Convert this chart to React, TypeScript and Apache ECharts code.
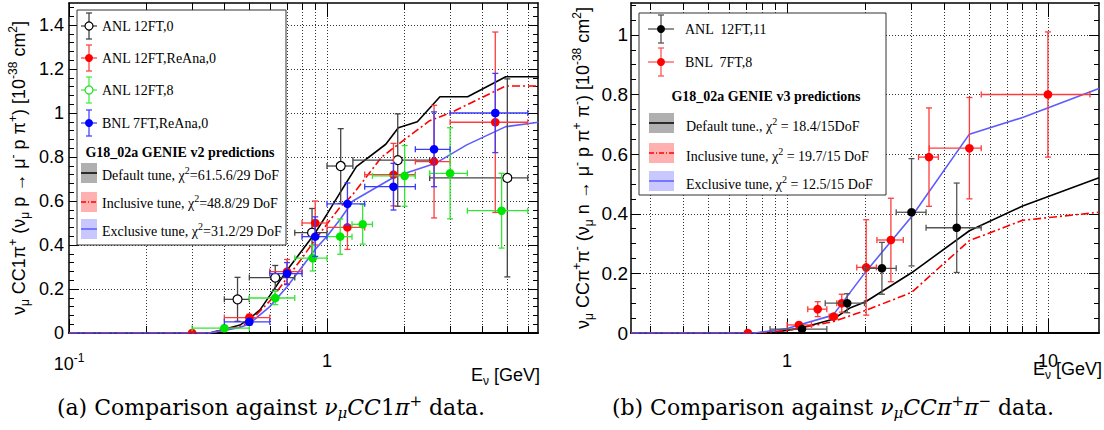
import React, { useEffect, useRef } from "react";
import * as echarts from "echarts";

// ---------- Panel (a): nu_mu CC1pi+ ----------
// rows: [E_nu, sigma, E_low, E_high, sigma_err]
const anl12ft0 = [
  [0.45, 0.153, 0.4, 0.5, 0.1],
  [0.63, 0.252, 0.5, 0.75, 0.055],
  [0.875, 0.456, 0.75, 1.0, 0.11],
  [1.13, 0.759, 1.0, 1.26, 0.17],
  [1.88, 0.786, 1.26, 2.5, 0.21],
  [5.0, 0.705, 2.5, 6.0, 0.45],
];
const anl12ftReAna0 = [
  [0.3, 0.0, 0.3, 0.3, 0.0],
  [0.5, 0.07, 0.4, 0.6, 0.015],
  [0.7, 0.279, 0.6, 0.8, 0.055],
  [0.9, 0.5, 0.8, 1.0, 0.1],
  [1.2, 0.48, 1.0, 1.4, 0.1],
  [1.81, 0.72, 1.4, 2.2, 0.142],
  [2.6, 0.779, 2.2, 3.0, 0.256],
  [4.49, 0.958, 3.0, 6.0, 0.41],
];
const anl12ft8 = [
  [0.4, 0.022, 0.3, 0.5, 0.01],
  [0.63, 0.159, 0.5, 0.75, 0.03],
  [0.88, 0.34, 0.75, 1.0, 0.058],
  [1.125, 0.438, 1.0, 1.25, 0.08],
  [1.375, 0.494, 1.25, 1.5, 0.09],
  [2.0, 0.714, 1.5, 2.2, 0.138],
  [3.0, 0.726, 2.5, 3.5, 0.207],
  [4.75, 0.556, 3.5, 6.0, 0.17],
];
const bnl7ftReAna0 = [
  [0.5, 0.051, 0.4, 0.6, 0.015],
  [0.7, 0.27, 0.6, 0.8, 0.05],
  [0.9, 0.438, 0.8, 1.0, 0.09],
  [1.2, 0.587, 1.0, 1.4, 0.095],
  [1.81, 0.665, 1.4, 2.2, 0.106],
  [2.6, 0.835, 2.2, 3.0, 0.17],
  [4.49, 1.0, 3.0, 6.0, 0.18],
];
// GENIE v2 predictions: [E_nu, sigma]
const v2Default = [
  [0.1, 0], [0.35, 0], [0.4, 0.017], [0.46, 0.036], [0.5, 0.065], [0.55, 0.105],
  [0.6, 0.17], [0.7, 0.285], [0.8, 0.375], [0.9, 0.455], [1.0, 0.54], [1.12, 0.635],
  [1.3, 0.756], [1.69, 0.858], [1.89, 0.933], [2.24, 0.96], [2.74, 1.074],
  [3.51, 1.074], [4.93, 1.165], [6.6, 1.165],
];
const v2Inclusive = [
  [0.1, 0], [0.35, 0], [0.4, 0.015], [0.46, 0.03], [0.5, 0.05], [0.6, 0.145],
  [0.7, 0.25], [0.8, 0.34], [0.9, 0.425], [1.0, 0.495], [1.12, 0.57], [1.25, 0.625],
  [1.63, 0.8], [2.0, 0.88], [2.5, 0.965], [3.0, 1.0], [4.93, 1.123], [6.6, 1.123],
];
const v2Exclusive = [
  [0.1, 0], [0.35, 0], [0.4, 0.012], [0.46, 0.025], [0.5, 0.042], [0.6, 0.12],
  [0.7, 0.21], [0.8, 0.3], [0.9, 0.38], [1.0, 0.44], [1.12, 0.514], [1.26, 0.6],
  [1.83, 0.71], [2.62, 0.77], [3.48, 0.855], [4.93, 0.938], [6.6, 0.958],
];

// ---------- Panel (b): nu_mu CC pi+ pi- ----------
const anl12ft11 = [
  [1.14, 0.013, 0.86, 1.42, 0.005],
  [1.7, 0.1, 1.4, 1.98, 0.032],
  [2.31, 0.217, 1.98, 2.62, 0.087],
  [3.0, 0.405, 2.62, 3.41, 0.18],
  [4.47, 0.353, 3.41, 5.55, 0.15],
];
const bnl7ft8 = [
  [0.707, 0.0, 0.707, 0.707, 0.0],
  [1.11, 0.027, 1.0, 1.24, 0.008],
  [1.31, 0.08, 1.2, 1.42, 0.025],
  [1.506, 0.055, 1.45, 1.56, 0.01],
  [1.62, 0.1, 1.55, 1.7, 0.03],
  [2.01, 0.22, 1.85, 2.2, 0.16],
  [2.5, 0.312, 2.21, 2.79, 0.14],
  [3.5, 0.59, 3.19, 3.8, 0.165],
  [5.0, 0.62, 3.51, 5.55, 0.17],
  [10.0, 0.8, 5.55, 14.5, 0.21],
];
const v3Default = [
  [0.252, 0], [0.75, 0], [0.9, 0.003], [1.12, 0.016], [1.5, 0.046], [1.75, 0.085],
  [2.0, 0.105], [3.0, 0.202], [5.0, 0.343], [8.0, 0.426], [15.7, 0.521],
];
const v3Inclusive = [
  [0.252, 0], [0.75, 0], [1.0, 0.008], [1.5, 0.038], [2.0, 0.076], [3.0, 0.136],
  [5.0, 0.31], [8.0, 0.378], [15.7, 0.405],
];
const v3Exclusive = [
  [0.252, 0], [0.75, 0], [1.0, 0.015], [1.5, 0.06], [2.0, 0.205], [3.0, 0.39],
  [5.0, 0.667], [8.0, 0.723], [15.7, 0.82],
];

// ---------- ticks ----------
const xMajorA = [0.1, 1];
const xGridA = [0.2, 0.3, 0.4, 0.5, 0.6, 0.7, 0.8, 0.9, 1, 2, 3, 4, 5, 6];
const xMajorB = [1, 10];
const xGridB = [0.3, 0.4, 0.5, 0.6, 0.7, 0.8, 0.9, 1, 2, 3, 4, 5, 6, 7, 8, 9, 10];
const yMajorA = [0, 0.2, 0.4, 0.6, 0.8, 1, 1.2, 1.4];
const yMajorB = [0, 0.2, 0.4, 0.6, 0.8, 1];
const yMinorA = Array.from({ length: 38 }, (_, i) => Math.round(i * 4) / 100);
const yMinorB = Array.from({ length: 23 }, (_, i) => Math.round(i * 5) / 100);

const SANS = '"Liberation Sans", Arial, sans-serif';
const SERIF = '"Liberation Serif", "Times New Roman", serif';
const CAPF = '"DejaVu Serif", serif';

const sansRich = (fs: number) => ({
  n: { fontSize: fs, fontFamily: SANS, color: "#000" },
  sub: { fontSize: Math.round(fs * 0.68), fontFamily: SANS, color: "#000", padding: [Math.round(fs * 0.6), 0, 0, 0] },
  sup: { fontSize: Math.round(fs * 0.68), fontFamily: SANS, color: "#000", padding: [0, 0, Math.round(fs * 0.65), 0] },
});

const DOT = { color: "#333", width: 1, type: [1, 2] as any };
const BLK = { color: "#000", width: 1.5 };

function xAxesFor(grid: number, min: number, max: number, major: number[], gridVals: number[], fmt: (v: number) => string) {
  const base = { type: "log", logBase: 10, gridIndex: grid, min, max };
  return [
    {
      ...base, position: "bottom",
      axisLine: { show: true, onZero: false, lineStyle: { color: "#000", width: 2 } },
      axisTick: { show: true, inside: true, length: 14, customValues: major, lineStyle: { color: "#000" } },
      axisLabel: { show: true, customValues: major, formatter: fmt, margin: 19, color: "#000", fontSize: 18, fontFamily: SANS, rich: sansRich(18) },
      splitLine: { show: false },
    },
    {
      ...base, position: "bottom",
      axisLine: { show: false, onZero: false },
      axisTick: { show: true, inside: true, length: 7, customValues: gridVals, lineStyle: { color: "#000" } },
      axisLabel: { show: false },
      splitLine: { show: true, lineStyle: DOT },
    },
    {
      ...base, position: "top",
      axisLine: { show: true, onZero: false, lineStyle: BLK },
      axisTick: { show: true, inside: true, length: 14, customValues: major, lineStyle: { color: "#000" } },
      axisLabel: { show: false },
      splitLine: { show: false },
    },
    {
      ...base, position: "top",
      axisLine: { show: false, onZero: false },
      axisTick: { show: true, inside: true, length: 7, customValues: gridVals, lineStyle: { color: "#000" } },
      axisLabel: { show: false },
      splitLine: { show: false },
    },
  ];
}

function yAxesFor(grid: number, max: number, major: number[], minor: number[], name: string, gap: number, margin: number, fs: number) {
  const base = { type: "value", gridIndex: grid, min: 0, max };
  return [
    {
      ...base, position: "left",
      axisLine: { show: true, onZero: false, lineStyle: BLK },
      axisTick: { show: true, inside: true, length: 10, customValues: major, lineStyle: { color: "#000" } },
      axisLabel: { show: true, customValues: major, margin, color: "#000", fontSize: fs, fontFamily: SANS, formatter: (v: number) => String(v) },
      splitLine: { show: true, lineStyle: DOT },
      name, nameLocation: "middle", nameGap: gap,
      nameTextStyle: { fontSize: 18, fontFamily: SANS, color: "#000", rich: sansRich(18) },
    },
    {
      ...base, position: "left",
      axisLine: { show: false, onZero: false },
      axisTick: { show: true, inside: true, length: 5, customValues: minor, lineStyle: { color: "#000" } },
      axisLabel: { show: false }, splitLine: { show: false },
    },
    {
      ...base, position: "right",
      axisLine: { show: true, onZero: false, lineStyle: BLK },
      axisTick: { show: true, inside: true, length: 10, customValues: major, lineStyle: { color: "#000" } },
      axisLabel: { show: false }, splitLine: { show: false },
    },
    {
      ...base, position: "right",
      axisLine: { show: false, onZero: false },
      axisTick: { show: true, inside: true, length: 5, customValues: minor, lineStyle: { color: "#000" } },
      axisLabel: { show: false }, splitLine: { show: false },
    },
  ];
}

function errItem(color: string, bar: string, open: boolean) {
  return (_p: any, api: any) => {
    const x = api.value(0), y = api.value(1), xl = api.value(2), xh = api.value(3), e = api.value(4);
    const c = api.coord([x, y]);
    const l = api.coord([xl, y]);
    const h = api.coord([xh, y]);
    const t = api.coord([x, y + e]);
    const b = api.coord([x, Math.max(0, y - e)]);
    const ls = { stroke: bar, lineWidth: 1.3 };
    const cap = 3;
    const ch: any[] = [];
    if (h[0] - l[0] > 1) {
      ch.push({ type: "line", shape: { x1: l[0], y1: c[1], x2: h[0], y2: c[1] }, style: ls });
      ch.push({ type: "line", shape: { x1: l[0], y1: c[1] - cap, x2: l[0], y2: c[1] + cap }, style: ls });
      ch.push({ type: "line", shape: { x1: h[0], y1: c[1] - cap, x2: h[0], y2: c[1] + cap }, style: ls });
    }
    if (b[1] - t[1] > 1) {
      ch.push({ type: "line", shape: { x1: c[0], y1: t[1], x2: c[0], y2: b[1] }, style: ls });
      ch.push({ type: "line", shape: { x1: c[0] - cap, y1: t[1], x2: c[0] + cap, y2: t[1] }, style: ls });
      ch.push({ type: "line", shape: { x1: c[0] - cap, y1: b[1], x2: c[0] + cap, y2: b[1] }, style: ls });
    }
    ch.push({
      type: "circle", shape: { cx: c[0], cy: c[1], r: open ? 4.5 : 4.3 },
      style: open ? { fill: "#fff", stroke: color, lineWidth: 1.2 } : { fill: color },
    });
    return { type: "group", children: ch };
  };
}

const lineS = (data: number[][], ax: number, color: string, type: any, width = 1.6) => ({
  type: "line", data, xAxisIndex: ax, yAxisIndex: ax, showSymbol: false, symbol: "none",
  lineStyle: { color, width, type }, silent: true, clip: true, z: 3, animation: false,
});
const errS = (data: number[][], ax: number, color: string, bar: string, open = false) => ({
  type: "custom", data, xAxisIndex: ax, yAxisIndex: ax,
  dimensions: ["x", "y", "xl", "xh", "e"], encode: { x: 0, y: 1 },
  renderItem: errItem(color, bar, open), clip: true, z: 4, silent: true, animation: false,
});

// ---------- legend / caption graphics ----------
const serifRich = {
  t: { fontSize: 14, fontFamily: SERIF, color: "#000" },
  sup: { fontSize: 10, fontFamily: SERIF, color: "#000", padding: [0, 0, 9, 0] },
};
function text(x: number, y: number, t: string, extra: any = {}) {
  return {
    type: "text", x, y, z: 102,
    style: {
      text: t, fill: "#000", font: `14px ${SERIF}`, align: "left", verticalAlign: "middle",
      textAlign: "left", textVerticalAlign: "middle", ...extra,
    },
  };
}
function marker(cx: number, cy: number, hw: number, hh: number, color: string, bar: string, open: boolean) {
  const ls = { stroke: bar, lineWidth: 1.3 };
  return [
    { type: "line", z: 101, shape: { x1: cx - hw, y1: cy, x2: cx + hw, y2: cy }, style: ls },
    { type: "line", z: 101, shape: { x1: cx, y1: cy - hh, x2: cx, y2: cy + hh }, style: ls },
    { type: "line", z: 101, shape: { x1: cx - 3, y1: cy - hh, x2: cx + 3, y2: cy - hh }, style: ls },
    { type: "line", z: 101, shape: { x1: cx - 3, y1: cy + hh, x2: cx + 3, y2: cy + hh }, style: ls },
    {
      type: "circle", z: 102, shape: { cx, cy, r: 4 },
      style: open ? { fill: "#fff", stroke: color, lineWidth: 1.2 } : { fill: color },
    },
  ];
}
function band(x: number, cy: number, w: number, fill: string, stroke: string, dash: any) {
  return [
    { type: "rect", z: 101, shape: { x, y: cy - 10, width: w, height: 20 }, style: { fill } },
    { type: "line", z: 102, shape: { x1: x, y1: cy, x2: x + w, y2: cy }, style: { stroke, lineWidth: 1.5, lineDash: dash } },
  ];
}
const chi = (a: string, b: string) => `{t|${a}χ}{sup|2}{t|${b}}`;

function graphics() {
  const g: any[] = [];
  // legend (a)
  g.push({ type: "rect", z: 100, shape: { x: 77, y: 10, width: 209, height: 235 }, style: { fill: "#fff", stroke: "#333", lineWidth: 1 } });
  g.push(...marker(89, 26, 8, 13, "#000", "#444", true), text(102, 26, "ANL 12FT,0"));
  g.push(...marker(89, 58, 8, 13, "#f00", "#ff4444", false), text(102, 58, "ANL 12FT,ReAna,0"));
  g.push(...marker(89, 90, 8, 13, "#22dd22", "#44ee44", true), text(102, 90, "ANL 12FT,8"));
  g.push(...marker(89, 123, 8, 13, "#0000ff", "#4444ff", false), text(102, 123, "BNL 7FT,ReAna,0"));
  g.push(text(180, 152, "G18_02a GENIE v2 predictions", { font: `bold 14px ${SERIF}`, align: "center", textAlign: "center" }));
  g.push(...band(81, 173, 16, "#b0b0b0", "#000", null), text(102, 175, chi("Default tune, ", "=61.5.6/29 DoF"), { rich: serifRich }));
  g.push(...band(81, 202, 16, "#ffb0b0", "#f00", [5, 2, 1, 2]), text(102, 203, chi("Inclusive tune, ", "=48.8/29 DoF"), { rich: serifRich }));
  g.push(...band(81, 229, 16, "#c8c8ff", "#5c5cff", null), text(102, 231, chi("Exclusive tune, ", "=31.2/29 DoF"), { rich: serifRich }));
  // legend (b)
  g.push({ type: "rect", z: 100, shape: { x: 639, y: 13, width: 247, height: 182 }, style: { fill: "#fff", stroke: "#333", lineWidth: 1 } });
  g.push(...marker(661, 29, 13, 14, "#000", "#555", false), text(685, 29, "ANL  12FT,11"));
  g.push(...marker(661, 62, 13, 14, "#f00", "#ff5555", false), text(685, 62, "BNL  7FT,8"));
  g.push(text(766, 96, "G18_02a GENIE v3 predictions", { font: `bold 14px ${SERIF}`, align: "center", textAlign: "center" }));
  g.push(...band(649, 123, 25, "#b0b0b0", "#000", null), text(686, 126, chi("Default tune., ", " = 18.4/15DoF"), { rich: serifRich }));
  g.push(...band(649, 153, 25, "#ffb0b0", "#f00", [5, 2, 1, 2]), text(686, 156, chi("Inclusive tune, ", " = 19.7/15 DoF"), { rich: serifRich }));
  g.push(...band(649, 181, 25, "#c8c8ff", "#5c5cff", null), text(686, 184, chi("Exclusive tune, ", " = 12.5/15 DoF"), { rich: serifRich }));
  // x axis titles
  const xr = sansRich(18);
  g.push(text(540, 375, "{n|E}{sub|ν}{n| [GeV]}", { rich: xr, align: "right", textAlign: "right" }));
  g.push(text(1102, 369, "{n|E}{sub|ν}{n| [GeV]}", { rich: xr, align: "right", textAlign: "right" }));
  // captions
  const cr = {
    r: { fontSize: 22, fontFamily: CAPF, color: "#000" },
    i: { fontSize: 22, fontFamily: CAPF, fontStyle: "italic", color: "#000" },
    isub: { fontSize: 15, fontFamily: CAPF, fontStyle: "italic", color: "#000", padding: [11, 0, 0, 0] },
    sup: { fontSize: 15, fontFamily: CAPF, color: "#000", padding: [0, 0, 13, 0] },
  };
  g.push(text(271, 407, "{r|(a) Comparison against }{i|ν}{isub|μ}{i|CC}{r|1}{i|π}{sup|+}{r| data.}", { rich: cr, align: "center", textAlign: "center" }));
  g.push(text(833, 407, "{r|(b) Comparison against }{i|ν}{isub|μ}{i|CCπ}{sup|+}{i|π}{sup|−}{r| data.}", { rich: cr, align: "center", textAlign: "center" }));
  return g;
}

function buildOption(): any {
  const fmtA = (v: number) => (v < 0.5 ? "{n|10}{sup|-1}" : "1");
  const fmtB = (v: number) => (v < 5 ? "1" : "10");
  const nameA = "{n|ν}{sub|μ}{n| CC1π}{sup|+}{n| (ν}{sub|μ}{n| p → μ}{sup|-}{n| p π}{sup|+}{n|) [10}{sup|-38}{n| cm}{sup|2}{n|]}";
  const nameB = "{n|ν}{sub|μ}{n| CCπ}{sup|+}{n|π}{sup|-}{n| (ν}{sub|μ}{n| n → μ}{sup|-}{n| p π}{sup|+}{n| π}{sup|-}{n|) [10}{sup|-38}{n| cm}{sup|2}{n|]}";
  return {
    animation: false,
    backgroundColor: "#fff",
    textStyle: { fontFamily: SANS },
    grid: [
      { left: 69, top: 3, width: 469, height: 330, outerBoundsMode: "none", containLabel: false },
      { left: 631, top: 3, width: 468, height: 330, outerBoundsMode: "none", containLabel: false },
    ],
    xAxis: [
      ...xAxesFor(0, 0.1, 6.574, xMajorA, xGridA, fmtA),
      ...xAxesFor(1, 0.252, 15.7, xMajorB, xGridB, fmtB),
    ],
    yAxis: [
      ...yAxesFor(0, 1.5, yMajorA, yMinorA, nameA, 38, 5, 18),
      ...yAxesFor(1, 1.107, yMajorB, yMinorB, nameB, 36, 3, 19),
    ],
    series: [
      lineS(v2Default, 0, "#000", "solid"),
      lineS(v2Inclusive, 0, "#f00", [8, 3, 2, 3]),
      lineS(v2Exclusive, 0, "#5c5cff", "solid"),
      errS(anl12ft0, 0, "#000", "#444", true),
      errS(anl12ftReAna0, 0, "#f00", "#ff3b3b"),
      errS(anl12ft8, 0, "#00e600", "#33e633"),
      errS(bnl7ftReAna0, 0, "#0000ff", "#3b3bff"),
      lineS(v3Default, 4, "#000", "solid"),
      lineS(v3Inclusive, 4, "#f00", [8, 3, 2, 3]),
      lineS(v3Exclusive, 4, "#5c5cff", "solid"),
      errS(bnl7ft8, 4, "#f00", "#ff3b3b"),
      errS(anl12ft11, 4, "#000", "#555"),
    ],
    graphic: graphics(),
  };
}

export default function App() {
  const ref = useRef<HTMLDivElement>(null);
  useEffect(() => {
    const chart = echarts.init(ref.current as HTMLDivElement, undefined, { renderer: "svg" });
    chart.setOption(buildOption());
    return () => chart.dispose();
  }, []);
  return (
    <div
      ref={ref}
      style={{ position: "absolute", left: 0, top: 0, width: 1104, height: 430, background: "#fff" }}
    />
  );
}
